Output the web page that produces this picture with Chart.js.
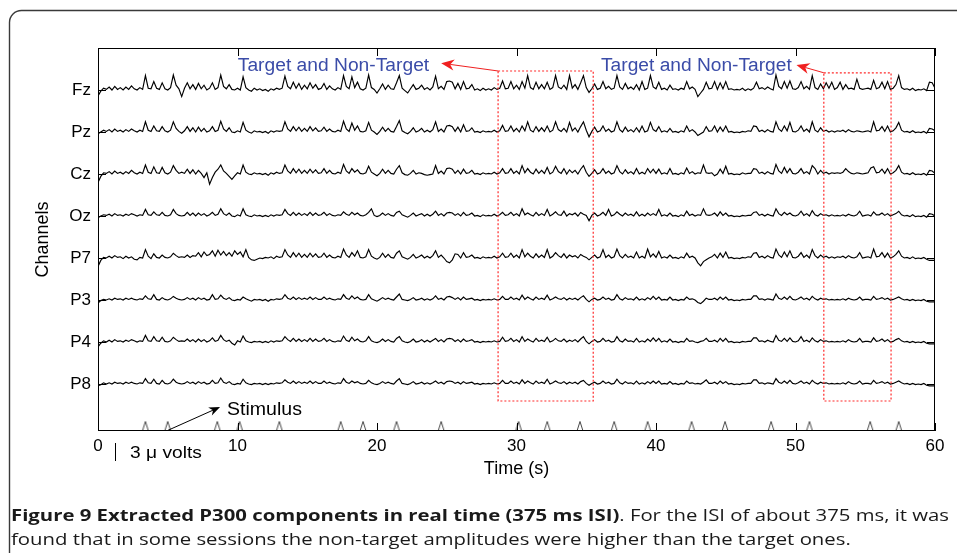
<!DOCTYPE html>
<html>
<head>
<meta charset="utf-8">
<script src="https://cdn.jsdelivr.net/npm/chart.js@4/dist/chart.umd.min.js"></script>
<style>
  html, body { margin: 0; padding: 0; background: #fff; }
  #wrap { width: 957px; height: 553px; }
</style>
</head>
<body>
<div id="wrap"><canvas id="eeg" width="957" height="553"></canvas></div>
<script>
// Canales y desplazamiento vertical de cada traza (uV)
const channelNames = ['Fz', 'Pz', 'Cz', 'Oz', 'P7', 'P3', 'P4', 'P8'];
const channelBase = [56.83, 49.83, 42.83, 35.83, 28.83, 21.83, 14.83, 7.83];
const xTicks = [0, 10, 20, 30, 40, 50, 60];
const sampleStep = 0.2; // s entre muestras

// Amplitudes, en decimas de uV respecto a la linea base
// (una fila = 2 s, 5 muestras por segundo)
const fz = [
  -10, -2, 3, 1, 5, 0, 6, 1, 4, 0,
  5, 1, 7, 2, 0, 4, 1, 24, 3, 2,
  14, 3, 1, 12, 2, 0, 4, 25, 8, 2,
  -11, 3, 12, 2, 9, 1, 11, 2, 8, 0,
  3, 12, 1, 4, 25, 6, 2, 9, 1, 0,
  3, 0, 22, 4, 0, -2, 3, 0, 2, -1,
  1, -2, 2, 0, 3, 1, 3, 23, 6, 2,
  13, 3, 11, 1, 8, 2, 12, 3, 9, 1,
  3, 11, 1, 7, 2, 0, 4, 1, 24, 6,
  2, 22, 4, 13, 2, 0, 3, 25, 4, 1,
  -5, 2, 10, 1, 8, 2, 1, 12, 24, 3,
  -1, -5, 2, 9, 1, 3, 8, 1, 4, 0,
  5, 23, 2, 6, 1, 14, 15, 13, 2, 11,
  1, 14, 2, 3, 9, 0, 2, -1, 3, 0,
  2, 0, 4, 1, 3, 15, 2, 3, 14, 2,
  8, 1, 14, 3, 24, 4, 1, 13, 2, 9,
  2, 13, 1, 4, 24, 5, 2, 8, 1, 24,
  3, 9, 1, 12, 24, 4, -4, 2, 10, 1,
  3, 14, 2, 6, 1, 3, 24, 5, 1, 11,
  2, 5, 1, 9, 0, 14, 1, 3, 24, 5,
  2, 13, 1, 3, 0, 8, 1, 2, 0, 3,
  1, 14, 2, 5, 1, -11, -5, 1, 13, 2,
  3, 14, 1, 12, 2, 14, 1, 2, 0, 1,
  0, 3, -1, 2, 0, 3, 13, 2, 4, 1,
  5, 2, 0, 25, 6, 2, 14, 3, 15, 2,
  1, 4, 14, 2, 6, 1, 24, 4, 1, 10,
  2, 12, 3, 13, 1, 4, 13, 1, 9, 2,
  3, 1, 18, 3, 1, 2, 3, 1, 16, 2,
  4, 13, 2, 14, 1, 3, 9, 24, 4, 1,
  2, 0, 3, -1, 1, 0, 2, -1, 13, 12,
  3];
const pz = [
  -3, 0, 3, 1, 4, 0, 5, 1, 3, 0,
  4, 1, 5, 2, 0, 3, 1, 17, 3, 1,
  10, 2, 1, 9, 2, 0, 3, 17, 6, 1,
  -2, 2, 9, 1, 7, 0, 8, 1, 6, 0,
  2, 9, 1, 3, 18, 5, 1, 7, 0, -1,
  2, 0, 16, 3, 0, -2, 2, 0, 1, -1,
  1, -2, 2, 0, 2, 1, 2, 17, 5, 1,
  9, 2, 8, 1, 6, 1, 9, 2, 7, 1,
  2, 8, 1, 5, 1, 0, 3, 1, 18, 5,
  1, 15, 3, 10, 1, 0, 2, 16, 3, 0,
  -4, 1, 8, 1, 6, 1, 0, 9, 19, 2,
  -1, -3, 1, 7, 0, 2, 6, 0, 3, 0,
  4, 17, 1, 5, 0, 10, 11, 9, 1, 8,
  0, 12, 1, 2, 7, 0, 1, -1, 2, 0,
  1, 0, 3, 0, 2, 11, 1, 2, 10, 1,
  6, 0, 10, 2, 17, 3, 0, 9, 1, 7,
  1, 10, 0, 3, 17, 4, 1, 6, 0, 16,
  2, 7, 0, 9, 17, 3, -8, 1, 8, 0,
  2, 10, 1, 5, 0, 2, 17, 4, 0, 8,
  1, 4, 0, 7, 0, 10, 0, 2, 16, 4,
  1, 9, 0, 2, 0, 6, 0, 1, -1, 2,
  0, 10, 1, 4, 0, -6, -3, 0, 9, 1,
  2, 10, 0, 8, 1, 10, 0, 1, -1, 0,
  -1, 1, 0, 2, 1, 10, 9, 1, 3, 0,
  4, 1, 0, 17, 5, 1, 10, 2, 16, 1,
  0, 3, 10, 1, 5, 0, 17, 3, 0, 7,
  1, 3, 0, 2, 0, 2, 1, 3, 0, 4,
  1, 0, 2, 1, 0, 1, 2, 0, 17, 2,
  3, 9, 1, 10, 0, 2, 7, 16, 3, 0,
  1, -1, 2, -1, 0, -1, 1, -2, 6, 5,
  2];
const cz = [
  -14, -4, 2, 1, 4, 0, 5, 1, 3, 0,
  4, 1, 6, 2, 0, 3, 1, 15, 3, 1,
  12, 2, 1, 11, 2, 0, 3, 14, 6, 1,
  3, 1, 8, 1, 7, 0, 6, 1, -6, 2,
  -17, -6, 3, 8, 15, 5, 1, -4, -9, -3,
  2, 0, 15, 3, 0, -1, 2, 0, 1, -1,
  1, -2, 2, 0, 3, 1, 2, 15, 5, 1,
  9, 2, 8, 1, 6, 1, 8, 2, 7, 1,
  2, 9, 1, 6, 1, 0, 3, 1, 16, 5,
  1, 9, 3, 7, 1, 0, 2, 13, 3, 0,
  -3, 1, 8, 1, 6, 1, 0, 8, 14, 2,
  -1, -2, 1, 6, 0, 2, 1, -1, -2, -1,
  0, 14, 1, 5, 0, 9, 10, 8, 1, 6,
  0, 8, 1, 2, 6, 0, 1, -1, 2, 0,
  1, 0, 3, 0, 2, 9, 1, 2, 9, 1,
  5, 0, 14, 2, 9, 3, 0, 8, 1, 6,
  1, 11, 0, 3, 13, 4, 1, 9, 0, 7,
  2, 6, 0, 8, 14, 3, -4, 1, 7, 0,
  2, 9, 1, 5, 0, 2, 14, 4, 0, 7,
  1, 4, 0, 9, 0, 3, 0, 9, 2, 8,
  1, 8, 0, 2, 0, 9, 0, 1, -1, 2,
  0, 10, 1, 4, 0, 2, 1, 15, 2, 1,
  2, -3, 0, 8, 1, 13, 0, 1, -1, 0,
  -1, 2, 0, 1, 1, 9, 8, 1, 3, 0,
  4, 1, 0, 16, 5, 1, 11, 2, 9, 1,
  0, 3, 9, 1, 4, 0, 14, 9, 0, 6,
  1, 3, 0, 2, 1, 2, 1, 3, 9, 4,
  1, 0, 2, 1, 0, 1, 2, 10, 12, 2,
  3, 8, 1, 9, 0, 2, 6, 14, 3, 0,
  1, -1, 2, -1, 0, -1, 1, -2, 6, 5,
  1];
const oz = [
  -3, 0, 2, 1, 3, 0, 4, 1, 2, 0,
  3, 1, 4, 2, 0, 2, 1, 11, 2, 1,
  7, 2, 1, 6, 1, 0, 2, 11, 4, 1,
  0, 1, 6, 1, 5, 0, 5, 1, 4, 0,
  2, 6, 1, 3, 12, 4, 1, 5, 0, -1,
  2, 0, 12, 2, 0, -1, 2, 0, 1, -1,
  1, -1, 2, 0, 2, 1, 2, 11, 4, 1,
  6, 1, 5, 1, 4, 1, 6, 1, 5, 1,
  2, 6, 1, 4, 1, 0, 2, 1, 7, 3,
  1, 6, 2, 5, 1, 0, 2, 6, 12, 1,
  -1, 1, 5, 1, 4, 1, 0, 6, 8, 2,
  0, -2, 1, 5, 0, 2, 4, 0, 3, 0,
  3, 8, 1, 4, 0, 5, 6, 5, 1, 4,
  0, 6, 1, 2, 5, 0, 1, -1, 2, 0,
  1, 0, 3, 0, 2, 6, 1, 2, 6, 1,
  4, 0, 12, 2, 5, 2, 0, 6, 1, 4,
  1, 11, 0, 3, 7, 2, 1, 8, 0, 4,
  2, 5, 0, 6, 3, 1, -8, 1, 5, 0,
  2, 6, 1, 11, 0, 2, 7, 3, 0, 5,
  1, 3, 0, 7, 0, 3, 0, 5, 1, 4,
  1, 11, 0, 2, 0, 5, 0, 1, -1, 2,
  0, 8, 1, 3, 0, 2, 1, 12, 2, 1,
  2, 5, 0, 7, 1, 5, 0, 1, -1, 0,
  -1, 1, 0, 1, 1, 6, 7, 1, 3, 0,
  3, 1, 0, 12, 4, 1, 6, 2, 5, 1,
  0, 2, 8, 1, 4, 0, 9, 2, 0, 4,
  1, 2, 0, 2, 0, 1, 0, 2, 0, 3,
  1, 0, 2, 8, 0, 1, 2, 0, 7, 2,
  2, 5, 1, 4, 0, 2, 4, 8, 2, 0,
  1, -1, 2, -1, 0, -1, 1, -2, 4, 3,
  0];
const p7 = [
  -14, -4, 1, 0, 3, 0, 4, 1, 2, -1,
  3, 0, 2, -2, -3, 1, 0, 14, 3, -1,
  7, 1, 0, 5, 1, 0, 2, 8, 4, 1,
  2, 1, 5, 1, 4, 3, 9, 2, 10, 4,
  6, 12, 3, 13, 5, 11, 4, 9, 3, 12,
  6, 10, 2, 14, 1, -3, -4, -2, 0, -1,
  1, 0, 2, -1, 3, 1, 2, 14, 5, 1,
  9, 2, 8, 1, 6, 1, 8, 2, 7, 1,
  2, 8, 1, 5, 1, 0, 3, 1, 15, 5,
  1, 9, 3, 12, 1, 0, 2, 14, 3, 0,
  -2, 1, 8, 1, 6, 1, 0, 8, 12, 2,
  0, -2, 1, 6, 0, 2, 5, 0, 3, 0,
  4, 12, 1, 5, 0, -6, -8, -3, 7, 6,
  0, 9, 1, 2, 5, 0, 1, -1, 2, 0,
  1, 0, 3, 0, 2, 8, 1, 2, 8, 1,
  5, 0, 14, 2, 8, 3, 0, 7, 1, 5,
  1, 14, 0, 3, 9, 4, 1, 7, 0, 5,
  2, 4, 0, 6, 3, 1, -3, 1, 5, 0,
  2, 14, 1, 5, 0, 2, 15, 4, 0, 6,
  1, 3, 0, 10, 0, 3, 0, 15, 2, 7,
  1, 11, 0, 2, 0, 5, 0, 1, -1, 2,
  0, 8, 1, 3, 0, -8, -13, -6, -3, 0,
  2, 6, 0, 8, 1, 10, 0, 1, -1, 0,
  -1, 1, 0, 2, 1, 8, 9, 1, 3, 0,
  4, 1, 0, 15, 5, 1, 10, 2, 12, 1,
  0, 3, 9, 1, 5, 0, 14, 4, 0, 5,
  1, 3, 0, 2, 0, 2, 1, 3, 0, 4,
  1, 0, 2, 9, 0, 1, 2, 0, 15, 2,
  3, 9, 1, 8, 0, 2, 6, 12, 3, 0,
  1, -1, 2, -1, 0, -1, 1, -2, -4, -4,
  -4];
const p3 = [
  -5, -1, 1, 0, 2, 0, 3, 1, 2, 0,
  3, 1, 3, 1, 0, 2, 1, 7, 2, 1,
  9, 1, 0, 4, 1, 0, 2, 6, 3, 1,
  0, 1, 4, 1, 3, 0, 4, 1, 3, 0,
  1, 9, 1, 2, 8, 3, 1, 4, 0, -1,
  1, 0, 5, 2, 0, -2, 1, 0, 1, -1,
  1, -2, 1, 0, 2, 1, 2, 9, 3, 1,
  5, 1, 4, 1, 3, 1, 5, 1, 4, 1,
  1, 5, 1, 3, 1, 0, 2, 1, 9, 3,
  1, 7, 2, 5, 1, 0, 1, 9, 2, 0,
  -2, 1, 4, 1, 3, 1, 0, 5, 10, 1,
  0, -1, 1, 4, 0, 1, 3, 0, 2, 0,
  2, 7, 1, 3, 0, 5, 6, 4, 1, 4,
  0, 5, 1, 2, 3, 0, 1, -1, 1, 0,
  1, 0, 2, 0, 1, 6, 1, 1, 5, 1,
  3, 0, 8, 1, 5, 2, 0, 5, 1, 3,
  1, 8, 0, 2, 5, 2, 1, 4, 0, 3,
  1, 3, 0, 4, 7, 1, -3, 1, 3, 0,
  1, 5, 1, 3, 0, 1, 9, 2, 0, 4,
  1, 2, 0, 5, 0, 2, 0, 4, 1, 6,
  1, 5, 0, 1, 0, 5, 0, 1, -1, 1,
  0, 5, 1, 2, 0, -4, -6, -2, 3, 1,
  1, 3, 0, 5, 1, 5, 0, 1, -1, 0,
  -1, 1, 0, 1, 1, 7, 7, 1, 2, 0,
  2, 1, 0, 10, 3, 1, 5, 1, 6, 1,
  0, 2, 5, 1, 3, 0, 6, 2, 0, 3,
  1, 2, 0, 1, 0, 1, 0, 2, 0, 3,
  1, 0, 1, 5, 0, 1, 1, 0, 6, 1,
  2, 4, 1, 3, 0, 1, 3, 5, 2, 0,
  1, -1, 1, -1, 0, -1, 1, -2, -3, -3,
  -3];
const p4 = [
  -8, -2, 2, 0, 3, 0, 4, 1, 2, 0,
  3, 1, 4, 2, 0, 2, 1, 11, 2, 1,
  9, 2, 1, 8, 1, 0, 2, 8, 4, 1,
  2, 1, 5, 1, 4, 0, 5, 1, 4, 0,
  2, 7, 1, 3, 11, 4, 1, 3, -2, -5,
  2, 0, 10, 2, 0, -1, 1, 0, 1, -1,
  1, -1, 2, 0, 2, 1, 2, 9, 4, 1,
  6, 1, 5, 1, 4, 1, 6, 1, 5, 1,
  2, 6, 1, 4, 1, 0, 2, 1, 10, 3,
  1, 8, 2, 5, 1, 0, 2, 9, 2, 0,
  -1, 1, 5, 1, 4, 1, 0, 6, 9, 2,
  0, -1, 1, 5, 0, 1, 4, 0, 3, 0,
  3, 6, 1, 4, 0, 5, 6, 5, 1, 4,
  0, 5, 1, 2, 4, 0, 1, -1, 1, 0,
  1, 0, 2, 0, 1, 8, 1, 2, 6, 1,
  4, 0, 9, 1, 5, 2, 0, 6, 1, 3,
  1, 8, 0, 2, 6, 2, 1, 5, 0, 3,
  1, 4, 0, 5, 9, 1, -3, 1, 4, 0,
  1, 6, 1, 3, 0, 1, 9, 2, 0, 5,
  1, 2, 0, 6, 0, 2, 0, 5, 1, 7,
  1, 6, 0, 2, 0, 5, 0, 1, -1, 1,
  0, 6, 1, 2, 0, -1, 1, 2, 6, 1,
  1, 3, 0, 6, 1, 6, 0, 1, -1, 0,
  -1, 1, 0, 1, 1, 7, 7, 1, 2, 0,
  3, 1, 0, 11, 3, 1, 6, 1, 7, 1,
  0, 2, 9, 1, 3, 0, 7, 2, 0, 4,
  1, 2, 0, 1, 0, 1, 0, 2, 0, 4,
  1, 0, 1, 6, 0, 1, 1, 0, 7, 1,
  2, 5, 1, 4, 0, 1, 4, 6, 2, 0,
  1, -1, 1, -1, 0, -1, 1, -2, -3, -3,
  -3];
const p8 = [
  -3, -1, 2, 0, 2, 0, 3, 1, 2, 0,
  3, 1, 3, 1, 0, 2, 1, 9, 2, 1,
  8, 1, 0, 6, 1, 0, 2, 8, 3, 1,
  0, 1, 4, 1, 3, 0, 4, 1, 3, 0,
  1, 6, 1, 2, 10, 3, 1, 4, 0, -1,
  1, 0, 8, 2, 0, -1, 1, 0, 1, -1,
  1, -1, 1, 0, 2, 1, 2, 7, 3, 1,
  5, 1, 4, 1, 3, 1, 5, 1, 4, 1,
  1, 5, 1, 3, 1, 0, 2, 1, 9, 3,
  1, 5, 2, 4, 1, 0, 1, 6, 2, 0,
  -1, 1, 4, 1, 3, 1, 0, 5, 9, 1,
  0, -1, 1, 4, 0, 1, 3, 0, 2, 0,
  2, 5, 1, 3, 0, 4, 5, 4, 1, 3,
  0, 4, 1, 2, 3, 0, 1, -1, 1, 0,
  1, 0, 2, 0, 1, 6, 1, 1, 5, 1,
  3, 0, 7, 1, 5, 2, 0, 5, 1, 3,
  1, 8, 0, 2, 5, 2, 1, 4, 0, 3,
  1, 3, 0, 4, 6, 1, -2, 1, 3, 0,
  1, 5, 1, 3, 0, 1, 8, 2, 0, 4,
  1, 2, 0, 5, 0, 2, 0, 4, 1, 5,
  1, 5, 0, 1, 0, 4, 0, 1, -1, 1,
  0, 5, 1, 2, 0, 1, 0, 3, 7, 1,
  1, 3, 0, 5, 1, 4, 0, 1, -1, 0,
  -1, 1, 0, 1, 1, 7, 7, 1, 2, 0,
  2, 1, 0, 9, 3, 1, 5, 1, 6, 1,
  0, 2, 5, 1, 3, 0, 6, 2, 0, 3,
  1, 2, 0, 1, 0, 1, 0, 2, 0, 4,
  1, 0, 1, 5, 0, 1, 1, 0, 6, 1,
  2, 4, 1, 3, 0, 1, 3, 5, 2, 0,
  1, -1, 1, -1, 0, -1, 1, -2, -3, -3,
  -3];

// Instantes de los estimulos (s)
const stimulusTimes = [3.4, 5.0, 8.55, 10.15, 13.0, 17.4, 19.0, 21.4, 24.6, 30.15,
  32.2, 34.55, 37.0, 39.4, 42.55, 44.95, 48.25, 51.0, 55.35, 57.4];

const FONT = "'Liberation Sans', Arial, sans-serif";
const CAP_FONT = "'Open Sans', 'Noto Sans', sans-serif";

// Marcas en la figura (coordenadas en s / uV)
const boxes = [
  { t0: 28.68, t1: 35.5, v0: 5.0, v1: 60.0 },
  { t0: 52.03, t1: 56.85, v0: 5.0, v1: 59.7 }
];
const targetLabels = [
  { text: 'Target and Non-Target', t0: 10.02, t1: 23.74, v: 60.78, from: [28.68, 60.0], to: [24.6, 61.3] },
  { text: 'Target and Non-Target', t0: 36.06, t1: 49.73, v: 60.78, from: [52.03, 59.7], to: [50.07, 61.0] }
];

// Simbolo de estimulo (tipo "A" sin barra)
const stimMark = document.createElement('canvas');
stimMark.width = 8;
stimMark.height = 20;
const mctx = stimMark.getContext('2d');
mctx.strokeStyle = '#333';
mctx.lineWidth = 0.9;
mctx.beginPath();
mctx.moveTo(1, 10);
mctx.lineTo(4, 0.5);
mctx.lineTo(7, 10);
mctx.stroke();

function fitText(ctx, str, x, y, width, font, color) {
  ctx.save();
  ctx.font = font;
  ctx.fillStyle = color;
  ctx.textBaseline = 'middle';
  ctx.textAlign = 'left';
  const w = ctx.measureText(str).width;
  ctx.translate(x, y);
  ctx.scale(width / w, 1);
  ctx.fillText(str, 0, 0);
  ctx.restore();
}

function arrow(ctx, x0, y0, x1, y1, color, len, half) {
  const a = Math.atan2(y1 - y0, x1 - x0);
  const c = Math.cos(a), s = Math.sin(a);
  ctx.save();
  ctx.strokeStyle = color;
  ctx.fillStyle = color;
  ctx.lineWidth = 1;
  ctx.beginPath();
  ctx.moveTo(x0, y0);
  ctx.lineTo(x1 - c * len * 0.7, y1 - s * len * 0.7);
  ctx.stroke();
  ctx.beginPath();
  ctx.moveTo(x1, y1);
  ctx.lineTo(x1 - c * len + s * half, y1 - s * len - c * half);
  ctx.lineTo(x1 - c * len * 0.7, y1 - s * len * 0.7);
  ctx.lineTo(x1 - c * len - s * half, y1 - s * len + c * half);
  ctx.closePath();
  ctx.fill();
  ctx.restore();
}

const decor = {
  id: 'decor',
  beforeDraw(chart) {
    const ctx = chart.ctx;
    ctx.save();
    ctx.fillStyle = '#fff';
    ctx.fillRect(0, 0, chart.width, chart.height);
    // recuadro redondeado de la figura
    ctx.strokeStyle = '#3a3a3a';
    ctx.lineWidth = 1.4;
    const r = 12, L = 9.5, T = 10.5;
    ctx.beginPath();
    ctx.moveTo(L, chart.height + 5);
    ctx.lineTo(L, T + r);
    ctx.arcTo(L, T, L + r, T, r);
    ctx.lineTo(chart.width + 5, T);
    ctx.stroke();
    ctx.restore();
  },
  afterDraw(chart) {
    const { ctx, chartArea: a } = chart;
    const xs = chart.scales.x, ys = chart.scales.y;
    const X = t => xs.getPixelForValue(t);
    const Y = v => ys.getPixelForValue(v);
    ctx.save();

    // marco y marcas interiores
    ctx.strokeStyle = '#000';
    ctx.lineWidth = 1;
    const L = Math.round(a.left), T = Math.round(a.top);
    const R = Math.round(a.right), B = Math.round(a.bottom);
    ctx.strokeRect(L + 0.5, T + 0.5, R - L - 1, B - T - 1);
    ctx.beginPath();
    xTicks.forEach(t => {
      const px = Math.round(X(t)) + 0.5;
      ctx.moveTo(px, B); ctx.lineTo(px, B - 8);
      ctx.moveTo(px, T); ctx.lineTo(px, T + 8);
    });
    channelBase.forEach(b => {
      const py = Math.round(Y(b)) + 0.5;
      ctx.moveTo(L, py); ctx.lineTo(L + 8, py);
      ctx.moveTo(R, py); ctx.lineTo(R - 8, py);
    });
    ctx.stroke();

    // cajas rojas punteadas
    ctx.strokeStyle = '#ff2a2a';
    ctx.lineWidth = 1.2;
    ctx.setLineDash([2, 2]);
    boxes.forEach(b => {
      ctx.strokeRect(X(b.t0), Y(b.v1), X(b.t1) - X(b.t0), Y(b.v0) - Y(b.v1));
    });
    ctx.setLineDash([]);

    // etiquetas azules + flechas rojas
    targetLabels.forEach(lb => {
      fitText(ctx, lb.text, X(lb.t0), Y(lb.v), X(lb.t1) - X(lb.t0), `18px ${FONT}`, '#3b4ca8');
      arrow(ctx, X(lb.from[0]), Y(lb.from[1]), X(lb.to[0]), Y(lb.to[1]), '#f02020', 13, 5.5);
    });

    // estimulo
    arrow(ctx, X(5.0), Y(0.1), X(8.75), Y(4.0), '#000', 11, 4.5);
    fitText(ctx, 'Stimulus', X(9.25), Y(3.55), X(14.62) - X(9.25), `18px ${FONT}`, '#000');

    // barra de escala 3 uV
    const barX = Math.round(X(1.22)) + 0.5;
    const barTop = B + 12;
    ctx.strokeStyle = '#000';
    ctx.lineWidth = 1;
    ctx.beginPath();
    ctx.moveTo(barX, barTop);
    ctx.lineTo(barX, barTop + (Y(0) - Y(3)));
    ctx.stroke();
    fitText(ctx, '3 \u03bc volts', X(2.3), B + 22, X(7.45) - X(2.3), `17px ${FONT}`, '#000');

    // pie de figura
    const capBold = 'Figure 9 Extracted P300 components in real time (375 ms ISI)';
    const capRest = '. For the ISI of about 375 ms, it was';
    const capLine2 = 'found that in some sessions the non-target amplitudes were higher than the target ones.';
    ctx.font = `bold 16px ${CAP_FONT}`;
    const wb = ctx.measureText(capBold).width;
    ctx.font = `16px ${CAP_FONT}`;
    const wr = ctx.measureText(capRest).width;
    const sx = 938 / (wb + wr);
    ctx.translate(11, 516.5);
    ctx.scale(sx, 1);
    ctx.textBaseline = 'middle';
    ctx.textAlign = 'left';
    ctx.fillStyle = '#1a1a1a';
    ctx.font = `bold 16px ${CAP_FONT}`;
    ctx.fillText(capBold, 0, 0);
    ctx.font = `16px ${CAP_FONT}`;
    ctx.fillText(capRest, wb, 0);
    ctx.fillText(capLine2, 0, 24);
    ctx.restore();
  }
};

const traces = [fz, pz, cz, oz, p7, p3, p4, p8];
const datasets = traces.map((vals, k) => ({
  label: channelNames[k],
  data: vals.map((v, i) => ({ x: i * sampleStep, y: channelBase[k] + v / 10 })),
  borderColor: '#000',
  borderWidth: 1.15,
  pointRadius: 0,
  tension: 0,
  fill: false
}));
datasets.push({
  label: 'Stimulus',
  data: stimulusTimes.map(t => ({ x: t, y: 0 })),
  showLine: false,
  pointStyle: stimMark,
  pointRadius: 4,
  clip: false
});

new Chart(document.getElementById('eeg'), {
  type: 'line',
  data: { datasets: datasets },
  options: {
    responsive: false,
    animation: false,
    devicePixelRatio: 1,
    events: [],
    layout: { padding: { left: 28, top: 48, right: 22, bottom: 72 } },
    plugins: { legend: { display: false }, tooltip: { enabled: false } },
    scales: {
      x: {
        type: 'linear',
        min: 0,
        max: 60,
        afterBuildTicks: s => { s.ticks = xTicks.map(v => ({ value: v })); },
        ticks: { font: { family: FONT, size: 17 }, color: '#000', padding: 5, maxRotation: 0 },
        grid: { display: false, drawTicks: false },
        border: { display: false },
        title: { display: true, text: 'Time (s)', font: { family: FONT, size: 18 }, color: '#000', padding: { top: 0, bottom: 1 } },
        afterFit: s => { s.height = 50; }
      },
      y: {
        type: 'linear',
        min: 0,
        max: 63.83,
        afterBuildTicks: s => { s.ticks = channelBase.map(v => ({ value: v })); },
        ticks: {
          font: { family: FONT, size: 17 },
          color: '#000',
          padding: 7,
          callback: v => channelNames[channelBase.indexOf(v)] || ''
        },
        grid: { display: false, drawTicks: false },
        border: { display: false },
        title: { display: true, text: 'Channels', font: { family: FONT, size: 18 }, color: '#000', padding: { top: 4, bottom: 0 } },
        afterFit: s => { s.width = 70; }
      }
    }
  },
  plugins: [decor]
});
</script>
</body>
</html>
